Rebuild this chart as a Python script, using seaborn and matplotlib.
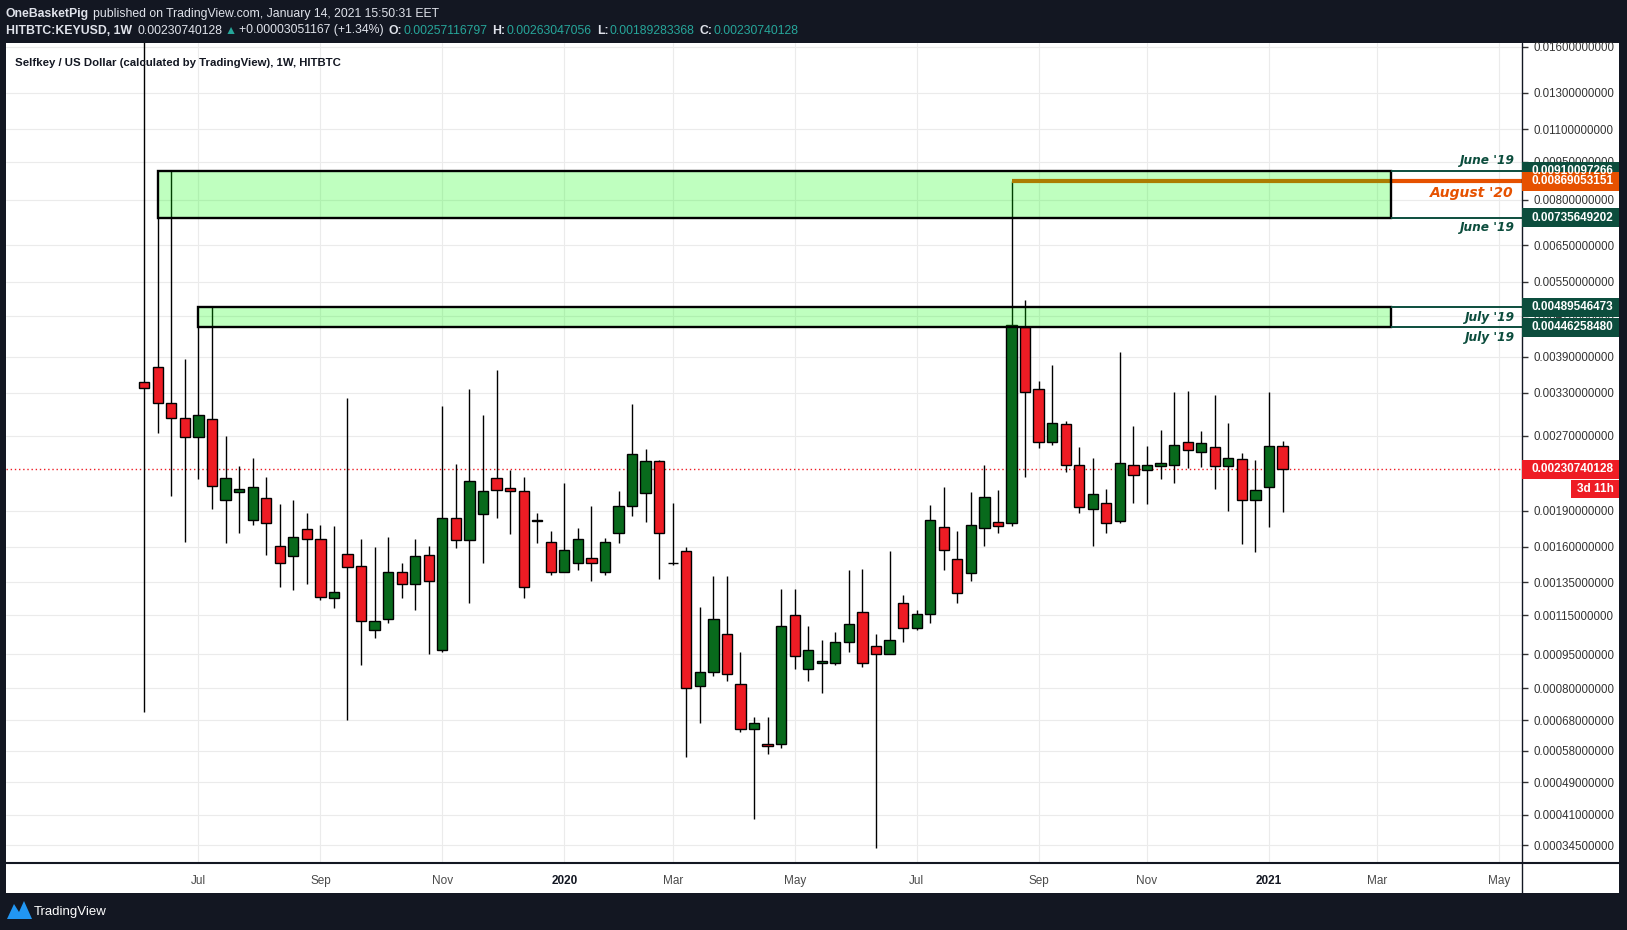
import numpy as np
import pandas as pd
import matplotlib
matplotlib.use("Agg")
import matplotlib.pyplot as plt
import matplotlib.dates as mdates
import seaborn as sns
from matplotlib.patches import Rectangle, Polygon
from matplotlib.lines import Line2D
from matplotlib.ticker import NullLocator

# weekly candles (HITBTC:KEYUSD), first bar = week of 3 June 2019
first_week = "2019-06-03"
opens = [
    0.00346, 0.00371, 0.00314, 0.00293, 0.00269, 0.00292, 0.00200, 0.00208, 0.00182, 0.00202,
    0.00161, 0.00153, 0.00174, 0.00166, 0.00125, 0.00155, 0.00146, 0.00107, 0.00113, 0.00142,
    0.00134, 0.00154, 0.00097, 0.00184, 0.00165, 0.00187, 0.00222, 0.00212, 0.00209, 0.00181,
    0.00164, 0.00142, 0.00148, 0.00152, 0.00142, 0.00171, 0.00194, 0.00207, 0.00240, 0.00148,
    0.00157, 0.00081, 0.00087, 0.00105, 0.00082, 0.00065, 0.00060, 0.00060, 0.00115, 0.00088,
    0.00091, 0.00091, 0.00101, 0.00117, 0.00099, 0.00095, 0.00122, 0.00108, 0.00116, 0.00176,
    0.00151, 0.00141, 0.00175, 0.00180, 0.00179, 0.00446, 0.00335, 0.00262, 0.00286, 0.00236,
    0.00192, 0.00197, 0.00181, 0.00236, 0.00230, 0.00234, 0.00236, 0.00262, 0.00250, 0.00256,
    0.00234, 0.00242, 0.00200, 0.00213, 0.00257116797]
highs = [
    0.0175, 0.00735649202, 0.00910097266, 0.00385, 0.00446258480, 0.00489546473, 0.00270, 0.00234, 0.00243, 0.00223,
    0.00196, 0.00200, 0.00188, 0.00178, 0.00177, 0.00322, 0.00166, 0.00160, 0.00168, 0.00148,
    0.00166, 0.00161, 0.00310, 0.00237, 0.00336, 0.00297, 0.00367, 0.00230, 0.00223, 0.00188,
    0.00173, 0.00217, 0.00175, 0.00194, 0.00167, 0.00209, 0.00313, 0.00254, 0.00241, 0.00197,
    0.00160, 0.00120, 0.00139, 0.00139, 0.00096, 0.00069, 0.00069, 0.00131, 0.00131, 0.00109,
    0.00102, 0.00106, 0.00143, 0.00144, 0.00105, 0.00157, 0.00127, 0.00118, 0.00195, 0.00213,
    0.00173, 0.00208, 0.00236, 0.00210, 0.00869053151, 0.00506, 0.00348, 0.00375, 0.00289, 0.00256,
    0.00244, 0.00211, 0.00398, 0.00283, 0.00257, 0.00277, 0.00331, 0.00332, 0.00276, 0.00326,
    0.00287, 0.00249, 0.00241, 0.00331, 0.00263047056]
lows = [
    0.00071, 0.00274, 0.00204, 0.00164, 0.00221, 0.00192, 0.00163, 0.00171, 0.00178, 0.00154,
    0.00132, 0.00130, 0.00134, 0.00124, 0.00119, 0.00068, 0.00090, 0.00103, 0.00111, 0.00125,
    0.00118, 0.00095, 0.00096, 0.00159, 0.00122, 0.00148, 0.00184, 0.00170, 0.00125, 0.00163,
    0.00140, 0.00142, 0.00143, 0.00136, 0.00140, 0.00163, 0.00185, 0.00180, 0.00137, 0.00147,
    0.00056, 0.00067, 0.00085, 0.00083, 0.00064, 0.00040, 0.00057, 0.00059, 0.00088, 0.00083,
    0.00078, 0.00090, 0.00096, 0.00089, 0.00034, 0.00095, 0.00101, 0.00107, 0.00111, 0.00143,
    0.00122, 0.00136, 0.00161, 0.00171, 0.00177, 0.00223, 0.00255, 0.00259, 0.00228, 0.00188,
    0.00161, 0.00171, 0.00179, 0.00197, 0.00196, 0.00221, 0.00217, 0.00232, 0.00233, 0.00211,
    0.00190, 0.00162, 0.00156, 0.00176, 0.00189283368]
closes = [
    0.00337, 0.00314, 0.00293, 0.00269, 0.00298, 0.00214, 0.00222, 0.00211, 0.00213, 0.00179,
    0.00148, 0.00168, 0.00166, 0.00126, 0.00129, 0.00145, 0.00112, 0.00112, 0.00142, 0.00134,
    0.00153, 0.00136, 0.00184, 0.00165, 0.00219, 0.00209, 0.00210, 0.00209, 0.00132, 0.00182,
    0.00142, 0.00158, 0.00166, 0.00148, 0.00164, 0.00194, 0.00248, 0.00240, 0.00171, 0.00148,
    0.00080, 0.00087, 0.00113, 0.00086, 0.00065, 0.00067, 0.000595, 0.00109, 0.00094, 0.00097,
    0.00092, 0.00101, 0.00110, 0.00091, 0.00095, 0.00102, 0.00108, 0.00116, 0.00182, 0.00158,
    0.00128, 0.00178, 0.00203, 0.00177, 0.00450, 0.00331, 0.00262, 0.00287, 0.00236, 0.00193,
    0.00206, 0.00179, 0.00238, 0.00225, 0.00236, 0.00238, 0.00259, 0.00253, 0.00261, 0.00235,
    0.00243, 0.00200, 0.00210, 0.00257, 0.00230740128]
last_price = 0.00230740128

# drawn zones and levels
zone_june = (0.00735649202, 0.00910097266)   # starts on week of 10 Jun 2019
zone_july = (0.00446258480, 0.00489546473)   # starts on week of 1 Jul 2019
zone_starts = ["2019-06-10", "2019-07-01"]
zone_end = "2021-03-08"
aug_level = 0.00869053151
aug_start = "2020-08-24"

y_ticks = [0.016, 0.013, 0.011, 0.0095, 0.008, 0.0065, 0.0055, 0.0047, 0.0039, 0.0033, 0.0027,
           0.0019, 0.0016, 0.00135, 0.00115, 0.00095, 0.0008, 0.00068, 0.00058, 0.00049,
           0.00041, 0.000345]
tick_dates = ["2019-07-01", "2019-09-02", "2019-11-04", "2020-01-06", "2020-03-02", "2020-05-04",
              "2020-07-06", "2020-09-07", "2020-11-02", "2021-01-04", "2021-03-01", "2021-05-03"]
tick_labels = ["Jul", "Sep", "Nov", "2020", "Mar", "May", "Jul", "Sep", "Nov", "2021", "Mar", "May"]

GREEN = "#086a1c"
RED = "#ee1c24"
DKGREEN = "#0c4d3d"
ORANGE = "#e65100"
TEAL = "#26a69a"
HEAD = "#e0e3eb"

sns.set_theme(style="white")
plt.rcParams["font.family"] = ["Liberation Sans", "DejaVu Sans"]

W, H = 1627, 930
fig = plt.figure(figsize=(W / 100, H / 100), dpi=100, facecolor="#131722")


def fx(px):
    return px / W


def fy(py):
    return 1 - py / H


fig.add_artist(Rectangle((fx(6), fy(893)), (1619 - 6) / W, (893 - 43) / H,
                         transform=fig.transFigure, facecolor="white", edgecolor="none", zorder=-1))
ax = fig.add_axes([fx(6), fy(862), (1522 - 6) / W, (862 - 43) / H])
ax.set_facecolor("white")

# TradingView style log scale: log10(price + 0.0001)
OFF = 1e-4


def fwd(p):
    return np.log10(np.maximum(np.asarray(p, float) + OFF, 1e-12))


def inv(v):
    return 10 ** np.asarray(v, float) - OFF


ax.set_yscale("function", functions=(fwd, inv))

o = np.array(opens)
h = np.array(highs)
l = np.array(lows)
c = np.array(closes)
dates = pd.date_range(first_week, periods=len(o), freq="7D")
d = mdates.date2num(dates)
d0 = d[0]

colors = np.where(c > o, GREEN, np.where(c < o, RED, "black"))
lo = np.minimum(o, c)
hi = np.maximum(o, c)

ax.vlines(d, l, h, color="black", lw=1, zorder=2)
ax.bar(d, hi - lo, bottom=lo, width=5.3, color=colors, edgecolor="black", linewidth=1, zorder=3)

xmin, xmax = d0 - 71.4, d0 + 711.7
ax.set_xlim(xmin, xmax)
ax.set_ylim(0.0003125, 0.016268)

# zones
zend = mdates.date2num(pd.Timestamp(zone_end))
for start, (bot, top) in zip(zone_starts, [zone_june, zone_july]):
    zs = mdates.date2num(pd.Timestamp(start))
    ax.add_patch(Rectangle((zs, bot), zend - zs, top - bot, facecolor=(0, 1, 0, 0.25),
                           edgecolor="black", lw=1.7, zorder=4))
ax.hlines(list(zone_june) + list(zone_july), zend, xmax, color=DKGREEN, lw=1.4, zorder=4)
ax.hlines(aug_level, mdates.date2num(pd.Timestamp(aug_start)), xmax, color=ORANGE, lw=3, zorder=3.5)
ax.axhline(last_price, color=RED, lw=1, ls=(0, (1, 2)), zorder=1.5)

# axes cosmetics
ax.set_yticks(y_ticks)
ax.set_yticklabels([f"{v:.11f}" for v in y_ticks])
ax.yaxis.set_minor_locator(NullLocator())
ax.yaxis.tick_right()
ax.tick_params(axis="y", which="major", direction="out", length=4, width=1, color="#333333",
               labelsize=8.3, labelcolor="#333333", pad=4, right=True, left=False)
ax.set_xticks(mdates.date2num(pd.to_datetime(tick_dates)))
ax.set_xticklabels(tick_labels)
ax.tick_params(axis="x", length=0, pad=9, labelsize=8.5, labelcolor="#4a4a4a")
for t in ax.get_xticklabels():
    if t.get_text().isdigit():
        t.set_fontweight("bold")
        t.set_color("#131722")
ax.grid(True, color="#ebebeb", lw=0.8)
sns.despine(ax=ax, left=True, bottom=True, right=True, top=True)

fig.add_artist(Line2D([fx(1522), fx(1522)], [fy(43), fy(893)], transform=fig.transFigure,
                      color="#131722", lw=1, zorder=3))
fig.add_artist(Line2D([fx(6), fx(1619)], [fy(863), fy(863)], transform=fig.transFigure,
                      color="#131722", lw=1.5, zorder=3))


def py_of(price):
    return H - ax.transData.transform((xmin, price))[1]


def price_label(price, bg, text=None):
    yc = py_of(price)
    fig.add_artist(Rectangle((fx(1522), fy(yc + 9.5)), 97 / W, 19 / H, transform=fig.transFigure,
                             facecolor=bg, edgecolor="none", zorder=5))
    fig.text(fx(1531), fy(yc), text or f"{price:.11f}", color="white", fontsize=8.5,
             fontweight="bold", ha="left", va="center", zorder=6)


for lvl in [zone_june[1], zone_june[0]]:
    price_label(lvl, DKGREEN)
price_label(aug_level, ORANGE)
price_label(zone_july[1], DKGREEN)
price_label(zone_july[0], DKGREEN)
price_label(last_price, RED)
yl = py_of(last_price) + 20
fig.add_artist(Rectangle((fx(1571), fy(yl + 9)), 48 / W, 18 / H, transform=fig.transFigure,
                         facecolor=RED, edgecolor="none", zorder=5))
fig.text(fx(1595), fy(yl), "3d 11h", color="white", fontsize=8.5, fontweight="bold",
         ha="center", va="center", zorder=6)

# level names
for lvl, txt, col, size, off in [(zone_june[1], "June '19", DKGREEN, 8.7, -10.5),
                                 (aug_level, "August '20", ORANGE, 10, 11.5),
                                 (zone_june[0], "June '19", DKGREEN, 8.7, 10),
                                 (zone_july[1], "July '19", DKGREEN, 8.7, 10),
                                 (zone_july[0], "July '19", DKGREEN, 8.7, 10)]:
    fig.text(fx(1514), fy(py_of(lvl) + off), txt, color=col, fontsize=size, family="DejaVu Sans",
             fontstyle="italic", fontweight="bold", ha="right", va="center", zorder=6)


# header and title
def text_run(x, y, parts, size):
    renderer = fig.canvas.get_renderer()
    for s, col, wt, gap in parts:
        t = fig.text(fx(x), fy(y), s, color=col, fontsize=size, fontweight=wt,
                     ha="left", va="baseline")
        x += t.get_window_extent(renderer).width + gap


text_run(6, 17.5, [("OneBasketPig", HEAD, "bold", 4),
                   ("published on TradingView.com, January 14, 2021 15:50:31 EET", HEAD, "normal", 0)], 8.8)
text_run(6, 33.5, [("HITBTC:KEYUSD, 1W", HEAD, "bold", 5),
                   ("0.00230740128", HEAD, "normal", 2),
                   ("▲", TEAL, "normal", 3),
                   ("+0.00003051167 (+1.34%)", HEAD, "normal", 5),
                   ("O:", HEAD, "bold", 1), ("0.00257116797", TEAL, "normal", 5),
                   ("H:", HEAD, "bold", 1), ("0.00263047056", TEAL, "normal", 5),
                   ("L:", HEAD, "bold", 1), ("0.00189283368", TEAL, "normal", 5),
                   ("C:", HEAD, "bold", 1), ("0.00230740128", TEAL, "normal", 0)], 8.8)
fig.text(fx(15), fy(66), "Selfkey / US Dollar (calculated by TradingView), 1W, HITBTC",
         color="#131722", fontsize=8.2, fontweight="bold", ha="left", va="baseline")

# footer
fig.add_artist(Polygon([(fx(7), fy(919)), (fx(14), fy(904)), (fx(19), fy(912)), (fx(24), fy(901)),
                        (fx(32), fy(919))], closed=True, transform=fig.transFigure,
                       facecolor="#2196f3", edgecolor="none"))
fig.text(fx(34), fy(912), "TradingView", color="white", fontsize=9.5, ha="left", va="center")

fig.savefig("out.png", dpi=100, facecolor=fig.get_facecolor())
